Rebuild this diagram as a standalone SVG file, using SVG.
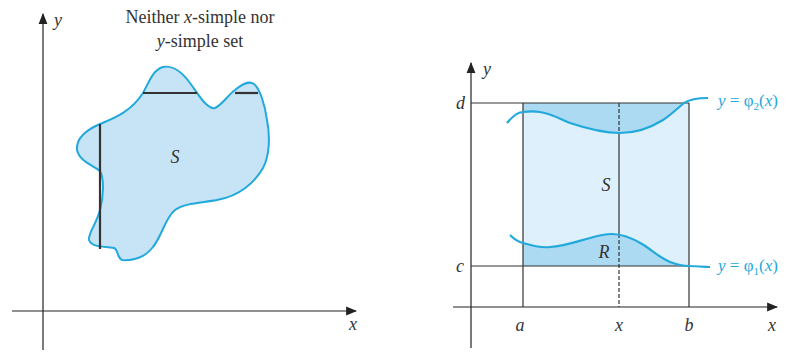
<svg xmlns="http://www.w3.org/2000/svg" width="789" height="354" viewBox="0 0 789 354">
<defs>
<marker id="arr" viewBox="0 0 10 10" refX="9" refY="5" markerWidth="11" markerHeight="11" markerUnits="userSpaceOnUse" orient="auto"><path d="M0,1 L10,5 L0,9 z" fill="#222"/></marker>
<style>
.ax{stroke:#222;stroke-width:1.2;fill:none}
.ln{stroke:#333;stroke-width:1.2;fill:none}
.thick{stroke:#333;stroke-width:2.2;fill:none}
.cur{stroke:#22a9dc;stroke-width:2.2;fill:none}
.t{font-family:'Liberation Serif','Times New Roman',serif;fill:#333;font-size:18px}
.i{font-style:italic}
.lbl{font-family:'Liberation Serif','Times New Roman',serif;font-style:italic;fill:#333;font-size:18px}
.cl{font-family:'Liberation Serif','Times New Roman',serif;fill:#22a9dc;font-size:17px}
</style>
</defs>
<rect width="789" height="354" fill="#fff"/>
<g id="left-axes">
<line class="ax" x1="43" y1="350" x2="43" y2="14" marker-end="url(#arr)"/>
<line class="ax" x1="12" y1="311" x2="356" y2="311" marker-end="url(#arr)"/>
<text class="lbl" x="54" y="26">y</text>
<text class="lbl" x="349" y="330">x</text>
</g>
<g id="title">
<text class="t" x="200" y="23" text-anchor="middle">Neither <tspan class="i">x</tspan>-simple nor</text>
<text class="t" x="200" y="47" text-anchor="middle"><tspan class="i">y</tspan>-simple set</text>
</g>
<g id="blob">
<path d="M100,124 C112,119 130,113 143,93 C150,80 153,70 163,67 C172,65 182,72 190,83 C196,91 200,98 205,103 C209,107 212,109 215,108 C222,105 228,95 235,90 C241,85 248,80 254,84 C260,89 265,105 267,120 C270,135 270,155 263,168 C255,182 240,196 217,200 C200,203 185,203 175,210 C165,218 162,236 153,247 C146,256 135,261 122,260 C117,258 118,249 114,248 C105,246 92,248 89,240 C88,233 96,225 100,210 C104,195 104,178 100,171 C93,165 80,162 77,150 C76,138 86,130 100,124 Z" fill="#c6e4f5" stroke="#22a9dc" stroke-width="2"/>
<line class="thick" x1="100" y1="124" x2="100" y2="249"/>
<line class="thick" x1="143" y1="93" x2="197" y2="93"/>
<line class="thick" x1="235" y1="93" x2="258" y2="93"/>
<text class="lbl" x="175" y="163" text-anchor="middle">S</text>
</g>
<g id="rect-S">
<rect x="523" y="103" width="166" height="163" fill="#def0fb"/>
<path d="M523,103 L523,112 C530,111 535,111 540,112 C552,114 560,119 570,123 C585,128 605,133 620,133 C635,133 650,128 663,120 C672,114 679,107 684,103 Z" fill="#acdaf3"/>
<path d="M523,266 L523,243 C533,246 542,248 550,247 C565,246 575,242 590,238 C600,235 606,234 612,234 C622,234 632,238 642,244 C652,250 660,258 670,262 C678,265 684,266 689,266 Z" fill="#acdaf3"/>
</g>
<g id="connectors">
<line class="ax" x1="471" y1="348" x2="471" y2="63" marker-end="url(#arr)"/>
<line class="ax" x1="453" y1="307" x2="777" y2="307" marker-end="url(#arr)"/>
<line class="ln" x1="471" y1="103" x2="689" y2="103"/>
<line class="ln" x1="471" y1="266" x2="689" y2="266"/>
<line class="ln" x1="523" y1="103" x2="523" y2="307"/>
<line class="ln" x1="689" y1="103" x2="689" y2="307"/>
<line class="ln" x1="619" y1="133" x2="619" y2="234"/>
<line class="ln" x1="619" y1="103" x2="619" y2="133" stroke-dasharray="4,2"/>
<line class="ln" x1="619" y1="234" x2="619" y2="307" stroke-dasharray="4,2"/>
</g>
<g id="phi2">
<path class="cur" d="M507,123 C512,117 517,112 523,112 C530,111 535,111 540,112 C552,114 560,119 570,123 C585,128 605,133 620,133 C635,133 650,128 663,120 C672,114 679,107 684,103 C690,99 698,98 708,98"/>
<text class="cl" x="718" y="106"><tspan class="i">y</tspan> = φ<tspan font-size="11" dy="4">2</tspan><tspan dy="-4">(</tspan><tspan class="i">x</tspan>)</text>
</g>
<g id="phi1">
<path class="cur" d="M510,235 C514,239 518,242 523,243 C533,246 542,248 550,247 C565,246 575,242 590,238 C600,235 606,234 612,234 C622,234 632,238 642,244 C652,250 660,258 670,262 C678,265 684,266 689,266 C696,266 703,267 710,267"/>
<text class="cl" x="718" y="271"><tspan class="i">y</tspan> = φ<tspan font-size="11" dy="4">1</tspan><tspan dy="-4">(</tspan><tspan class="i">x</tspan>)</text>
</g>
<g id="labels-right">
<text class="lbl" x="483" y="75">y</text>
<text class="lbl" x="456" y="109">d</text>
<text class="lbl" x="456" y="272">c</text>
<text class="lbl" x="520" y="331" text-anchor="middle">a</text>
<text class="lbl" x="619" y="331" text-anchor="middle">x</text>
<text class="lbl" x="689" y="331" text-anchor="middle">b</text>
<text class="lbl" x="772" y="331" text-anchor="middle">x</text>
<text class="lbl" x="606" y="191" text-anchor="middle">S</text>
<text class="lbl" x="604" y="258" text-anchor="middle">R</text>
</g>
</svg>
